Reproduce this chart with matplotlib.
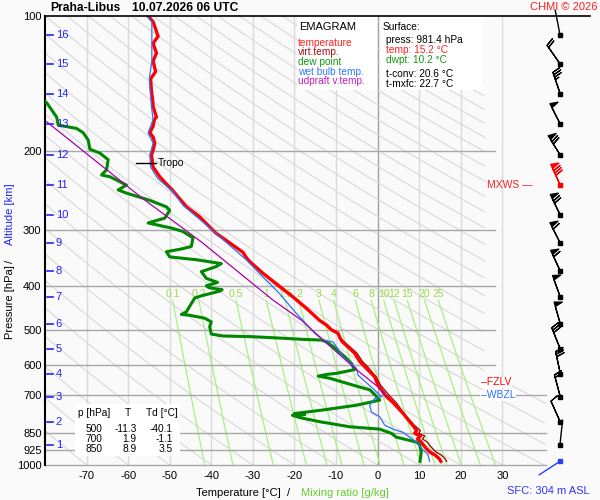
import numpy as np
import matplotlib
matplotlib.use('Agg')
import matplotlib.pyplot as plt
from matplotlib.patches import Rectangle
from matplotlib.lines import Line2D

plt.rcParams['font.family'] = ['Liberation Sans', 'DejaVu Sans']
plt.rcParams['axes.unicode_minus'] = False

# ---- sounding data ----
temp_p = [981.4, 968, 950, 935, 910, 889, 875, 862, 850, 838, 815, 767, 726, 700,
          664, 636, 604, 588, 564, 530, 520, 509, 500, 488, 476, 448, 422, 400,
          374, 352, 345, 336, 320, 305, 295, 280, 266, 244, 240, 228, 217, 204,
          199, 192, 186, 182, 176, 170, 168, 159, 154, 147, 138, 133, 126, 121,
          115, 111, 103, 100]
temp_t = [15.2, 14.8, 13.8, 12.5, 11.3, 10.5, 9.6, 10.3, 8.9, 9.4, 8.4, 6.1, 3.7, 1.9,
          0.1, -0.7, -3.1, -4.3, -5.5, -8.6, -9.1, -9.5, -11.1, -12.3, -14.0, -17.1, -20.4, -23.6,
          -27.6, -30.8, -31.6, -32.4, -35.6, -38.8, -40.4, -42.8, -46.0, -49.4, -50.2, -52.4, -54.0, -54.4,
          -54.0, -53.6, -54.0, -54.8, -54.0, -53.7, -53.2, -54.0, -54.1, -54.4, -54.6, -53.4, -54.0, -53.2,
          -54.0, -52.8, -54.0, -55.2]

dewp_p = [981.4, 935, 901, 889, 867, 850, 832, 822, 801, 785, 775, 772, 768, 760, 754,
          736, 717, 700, 680, 664, 641, 634, 628, 625, 613, 594, 574, 545, 532, 527,
          525, 522, 518, 516, 511, 492, 480, 471, 464, 462, 456, 437, 425, 420, 410,
          407, 403, 399, 392, 384, 371, 362, 356, 349, 344, 335, 330, 326, 312, 302,
          297, 289, 284, 282, 271, 266, 257, 248, 244, 238, 228, 226, 220, 209, 202,
          198, 189, 182, 178, 175, 168, 156, 150, 140]
dewp_t = [10.2, 10.5, 10.1, 9.3, 4.5, 3.3, 0.5, -6.7, -13.9, -18.5, -20.5, -17.5, -20.0, -16.0, -13.1,
          -5.1, 0.5, -0.5, -1.9, -5.9, -11.5, -14.3, -12.0, -9.9, -5.5, -6.3, -7.9, -10.7, -12.3, -13.5,
          -18.0, -22.8, -30.0, -37.2, -40.0, -40.4, -40.0, -41.6, -45.2, -47.2, -46.0, -44.8, -44.0, -42.4, -38.0,
          -37.4, -40.5, -41.2, -38.5, -41.2, -42.4, -39.0, -37.6, -43.6, -50.0, -50.8, -47.0, -44.8, -44.4, -46.8,
          -49.4, -55.2, -52.4, -51.2, -50.0, -50.8, -55.0, -60.4, -62.4, -60.4, -64.4, -66.4, -65.2, -64.8, -66.8,
          -69.2, -69.6, -70.8, -72.4, -76.8, -77.2, -79.6, -82.0, -85.0]

wetb_p = [981.4, 947, 925, 889, 846, 832, 815, 781, 762, 736, 711, 704, 631, 609, 574,
          532, 527, 509, 476, 459, 415, 381, 349, 329, 310, 292, 264, 246, 230, 217,
          204, 192, 182, 170, 159, 147, 138, 126, 115, 103, 100]
wetb_t = [12.5, 12.1, 10.9, 9.3, 6.1, 3.7, 1.7, 0.5, -1.5, -1.9, -0.7, 1.0, -4.7, -5.1, -8.3,
          -10.7, -13.1, -15.1, -18.0, -19.6, -23.6, -27.6, -31.6, -34.8, -38.0, -41.2, -46.8, -49.2, -52.9, -54.6,
          -54.8, -54.0, -55.2, -54.0, -54.4, -54.7, -54.9, -54.3, -54.3, -54.3, -55.5]

parcel_p = [704, 670, 613, 518, 476, 429, 318, 255, 172]
parcel_t = [2.1, 0.1, -5.1, -14.0, -18.3, -25.2, -42.5, -56.5, -79.6]

alt_km = list(range(1, 17))
alt_p = [902, 802, 706, 627, 551, 485, 422, 370, 320, 277, 238, 204, 174, 149, 128, 110]

# wind: surface, then the 1..16 km levels
wind_p = [981.4] + alt_p
wind_dir = [237, 6, 336, 345, 348, 338, 344, 340, 335, 333, 334, 335, 328, 333, 341, 325, 349]
wind_spd = [3, 3, 10, 20, 30, 30, 50, 50, 60, 60, 70, 80, 70, 50, 35, 20, 3]

mix_ratios = [0.1, 0.2, 0.5, 1, 1.5, 2, 3, 4, 6, 8, 10, 12, 15, 20, 25]
mix_labels = ['0.1', '0.2', '0.5', '1', '1.5', '2', '3', '4', '6', '8', '10', '12', '15', '20', '25']

p_ticks = [100, 200, 300, 400, 500, 600, 700, 850, 925, 1000]
t_ticks = list(range(-70, 31, 10))

table_p = [500, 700, 850]
table_t = [-11.3, 1.9, 8.9]
table_td = [-40.1, -1.1, 3.5]

sfc_press, sfc_temp, sfc_dwpt = 981.4, 15.2, 10.2
t_conv, t_mxfc = 20.6, 22.7
sfc_alt = 304
tropo_p, fzlv_p, wbzl_p, mxws_p = 213, 655, 700, 238

W, H = 600, 500


def fx(x):
    return x / W


def fy(y):
    return 1 - y / H


fig = plt.figure(figsize=(6, 5), dpi=100, facecolor='#fafafa')
ax = fig.add_axes([fx(45), fy(465), (546 - 45) / W, (465 - 16) / H])
ax.set_facecolor('#fafafa')
ax.set_yscale('log')
ax.set_ylim(1000, 100)
ax.set_xlim(-80, 40.5)

# isotherms
for t in t_ticks:
    ax.plot([t, t], [1000, 100], color='#a0a0a0' if t == 0 else '#dadada', lw=1, zorder=1)

# isobars
for p in p_ticks[1:]:
    right = 40.5 if p >= 700 else 28.3
    ax.plot([-80, right], [p, p], color='#a8a8a8', lw=1, zorder=2, clip_on=False)

# dry adiabats
pp = np.geomspace(100, 1000, 300)
lim = np.where(pp < 660, 26, 40.5)
for th in range(-80, 260, 10):
    tt = (th + 273.15) * (pp / 1000) ** 0.2857 - 273.15
    tt = np.where(tt <= lim, tt, np.nan)
    ax.plot(tt, pp, color='#d8d8d8', lw=0.8, zorder=1.5)

# mixing ratio lines
pm = np.geomspace(430, 1000, 60)
for w, lab in zip(mix_ratios, mix_labels):
    e = w * pm / (622 + w)
    lg = np.log(e / 6.112)
    td = 243.5 * lg / (17.67 - lg)
    ax.plot(td, pm, color='#a8f080', lw=0.9, zorder=1.6)
    ax.text(td[0], 416, lab, color='#99dd44', fontsize=7.5, ha='center', va='center', zorder=3)

# virtual temperature from T and Td
lp_t = np.log(temp_p)[::-1]
td_at_t = np.interp(lp_t, np.log(dewp_p)[::-1], np.array(dewp_t)[::-1])[::-1]
e_t = 6.112 * np.exp(17.67 * td_at_t / (td_at_t + 243.5))
w_t = 0.622 * e_t / (np.array(temp_p) - e_t)
tv = (np.array(temp_t) + 273.15) * (1 + 0.61 * w_t) - 273.15

ax.plot(tv, temp_p, color='#990000', lw=0.9, zorder=5)
ax.plot(temp_t, temp_p, color='#ff0000', lw=2.4, zorder=6)
ax.plot(dewp_t, dewp_p, color='#008800', lw=2.2, zorder=6)
ax.plot(wetb_t, wetb_p, color='#2f6fff', lw=0.9, zorder=7)
ax.plot(parcel_t, parcel_p, color='#aa00aa', lw=0.9, zorder=7)

# altitude labels
for km, p in zip(alt_km, alt_p):
    ax.plot([-79.6, -78.1], [p, p], color='#2222ff', lw=1.2, zorder=8)
    ax.text(-77.4, p, str(km), color='#2222ff', fontsize=8, ha='left', va='center', zorder=8)

# tropopause
ax.plot([-58.2, -53.4], [tropo_p, tropo_p], color='k', lw=1, zorder=8)
ax.text(-52.8, tropo_p, 'Tropo', fontsize=7.5, ha='left', va='center', zorder=8)

ax.text(26.2, mxws_p, 'MXWS \u2014', color='#ff2020', fontsize=7.5, ha='left', va='center', zorder=8)
ax.text(24.8, fzlv_p, '\u2013FZLV', color='#ff0000', fontsize=7.5, ha='left', va='center', zorder=8,
        bbox=dict(facecolor='white', edgecolor='none', pad=0.5))
ax.text(24.8, wbzl_p, '\u2013WBZL', color='#3070ff', fontsize=7.5, ha='left', va='center', zorder=8,
        bbox=dict(facecolor='white', edgecolor='none', pad=0.5))

# boxes
for x0, y0, x1, y1 in [(297, 16, 377, 90), (380, 16, 483, 90), (75, 404, 180, 456)]:
    ax.add_patch(Rectangle((fx(x0), fy(y1)), (x1 - x0) / W, (y1 - y0) / H, transform=fig.transFigure,
                           facecolor='white', edgecolor='none', zorder=4, clip_on=False))

# ticks and spines
ax.set_yticks(p_ticks)
ax.set_yticklabels([str(p) for p in p_ticks])
ax.yaxis.set_minor_locator(matplotlib.ticker.NullLocator())
ax.set_xticks(t_ticks)
ax.set_xticklabels([str(t) for t in t_ticks])
ax.tick_params(length=0, labelsize=8, pad=2.5)
ax.tick_params(axis='x', pad=4)
for s in ['top', 'right', 'bottom']:
    ax.spines[s].set_visible(False)
ax.spines['left'].set_linewidth(1.5)

fig.add_artist(Line2D([fx(45), fx(590)], [fy(16), fy(16)], color='k', lw=1.2))

# wind barbs column
ax2 = fig.add_axes([fx(496), fy(465), 104 / W, 449 / H])
ax2.set_yscale('log')
ax2.set_ylim(1000, 100)
ax2.set_xlim(0, 1)
ax2.axis('off')
ax2.patch.set_visible(False)
for p, d, s in zip(wind_p, wind_dir, wind_spd):
    c = 'k'
    if p == sfc_press:
        c = '#2244ff'
    elif p == mxws_p:
        c = '#ff0000'
    rad = np.deg2rad(d)
    if s >= 5:
        ax2.barbs([0.615], [p], [-s * np.sin(rad)], [-s * np.cos(rad)], length=5.8, color=c,
                  barbcolor=c, flagcolor=c, lw=0.9, clip_on=False, zorder=5,
                  sizes=dict(spacing=0.11, height=0.34, width=0.2))
    else:
        ax2.annotate('', xy=(0.615, p), xytext=(18 * np.sin(rad), 18 * np.cos(rad)),
                     textcoords='offset points', annotation_clip=False,
                     arrowprops=dict(arrowstyle='-', color=c, lw=1, shrinkA=0, shrinkB=0))
    ax2.plot([0.615], [p], marker='s', ms=3, color=c, ls='none', clip_on=False, zorder=6)

# texts
fig.text(fx(50), fy(8), 'Praha-Libus', fontsize=8.7, weight='bold', va='center')
fig.text(fx(132), fy(8), '10.07.2026 06 UTC', fontsize=8.7, weight='bold', va='center')
fig.text(fx(598), fy(7), 'CHMI \u00a9 2026', fontsize=8, color='#ff2020', ha='right', va='center')

fig.text(fx(299), fy(27), 'EMAGRAM', fontsize=8, va='center')
legend = [('temperature', '#ff2222'), ('virt.temp.', '#aa1111'), ('dew point', '#119911'),
          ('wet bulb temp.', '#3377ff'), ('udpraft v.temp.', '#bb22bb')]
for i, (lab, c) in enumerate(legend):
    fig.text(fx(298), fy(42.5 + 9.7 * i), lab, fontsize=7.3, color=c, va='center')

fig.text(fx(382.5), fy(27), 'Surface:', fontsize=7.3, va='center')
fig.text(fx(386.5), fy(40), f'press: {sfc_press:.1f} hPa', fontsize=7.3, va='center')
fig.text(fx(386.5), fy(50), f'temp: {sfc_temp:.1f} \u00b0C', fontsize=7.3, color='#ff2020', va='center')
fig.text(fx(386.5), fy(60), f'dwpt: {sfc_dwpt:.1f} \u00b0C', fontsize=7.3, color='#119911', va='center')
fig.text(fx(386.5), fy(74), f't-conv: {t_conv:.1f} \u00b0C', fontsize=7.3, va='center')
fig.text(fx(386.5), fy(84), f't-mxfc: {t_mxfc:.1f} \u00b0C', fontsize=7.3, va='center')

fig.text(fx(78), fy(413.5), 'p [hPa]', fontsize=7.3, va='center')
fig.text(fx(127.5), fy(413.5), 'T', fontsize=7.3, va='center', ha='center')
fig.text(fx(146.5), fy(413.5), 'Td [\u00b0C]', fontsize=7.3, va='center')
for i, (p, t, td) in enumerate(zip(table_p, table_t, table_td)):
    yy = fy(429 + 10 * i)
    fig.text(fx(102.5), yy, str(p), fontsize=7.3, ha='right', va='center')
    fig.text(fx(136.5), yy, f'{t:.1f}', fontsize=7.3, ha='right', va='center')
    fig.text(fx(173), yy, f'{td:.1f}', fontsize=7.3, ha='right', va='center')

fig.text(fx(10), fy(302), 'Pressure [hPa]', fontsize=8, rotation=90, ha='center', va='center')
fig.text(fx(10), fy(261), '/', fontsize=8, rotation=90, ha='center', va='center')
fig.text(fx(10), fy(214), 'Altitude [km]', fontsize=8, rotation=90, ha='center', va='center', color='#2222ff')

fig.text(fx(238.5), fy(492.5), 'Temperature [\u00b0C]', fontsize=8, ha='center', va='center')
fig.text(fx(288.5), fy(492.5), '/', fontsize=8, ha='center', va='center')
fig.text(fx(345), fy(492.5), 'Mixing ratio [g/kg]', fontsize=8, ha='center', va='center', color='#66cc33')
fig.text(fx(590), fy(491.5), f'SFC: {sfc_alt} m ASL', fontsize=8, ha='right', va='center', color='#3333ff')

fig.savefig('out.png', dpi=100, facecolor=fig.get_facecolor())
